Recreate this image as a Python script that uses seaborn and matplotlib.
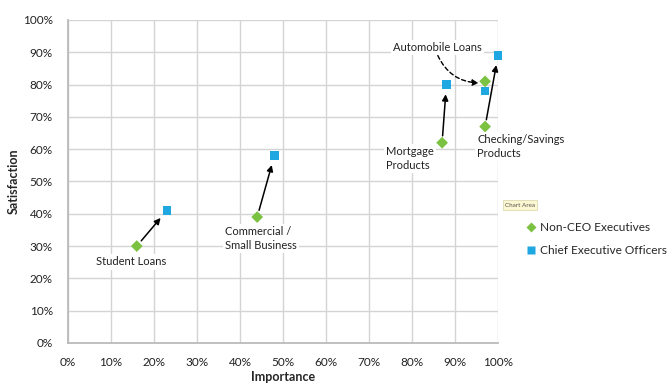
import matplotlib
matplotlib.use("Agg")
import matplotlib.pyplot as plt
import seaborn as sns
import pandas as pd
from matplotlib.ticker import FuncFormatter

# values (percent)
categories = ['Student Loans', 'Commercial / Small Business', 'Mortgage Products',
              'Automobile Loans', 'Checking/Savings Products']
non_ceo_importance = [16, 44, 87, 97, 97]
non_ceo_satisfaction = [30, 39, 62, 81, 67]
ceo_importance = [23, 48, 88, 97, 100]
ceo_satisfaction = [41, 58, 80, 78, 89]
series_names = ['Non-CEO Executives', 'Chief Executive Officers']

df = pd.concat([
    pd.DataFrame({'Category': categories, 'Importance': non_ceo_importance,
                  'Satisfaction': non_ceo_satisfaction, 'Group': series_names[0]}),
    pd.DataFrame({'Category': categories, 'Importance': ceo_importance,
                  'Satisfaction': ceo_satisfaction, 'Group': series_names[1]}),
])

sns.set_theme(style='whitegrid')
plt.rcParams['font.family'] = ['Lato', 'DejaVu Sans']

fig = plt.figure(figsize=(6.69, 3.85), dpi=100)
ax = fig.add_axes([0.1016, 0.1091, 0.6428, 0.8390])

palette = {series_names[0]: '#7cc242', series_names[1]: '#1ea7e1'}
markers = {series_names[0]: 'D', series_names[1]: 's'}
sns.scatterplot(data=df, x='Importance', y='Satisfaction', hue='Group', style='Group',
                palette=palette, markers=markers, s=36, edgecolor='none', ax=ax,
                zorder=5)
for coll in ax.collections:
    coll.set_clip_on(False)

ax.set_xlim(0, 100)
ax.set_ylim(0, 100)
ax.set_xticks(range(0, 101, 10))
ax.set_yticks(range(0, 101, 10))
pct = FuncFormatter(lambda v, p: f'{v:.0f}%')
ax.xaxis.set_major_formatter(pct)
ax.yaxis.set_major_formatter(pct)
ax.tick_params(labelsize=8.5, colors='#222222', pad=4)
ax.tick_params(axis='y', pad=5)
ax.grid(color='#d4d4d4', lw=1)
for side in ['top', 'right']:
    ax.spines[side].set_visible(False)
for side in ['left', 'bottom']:
    ax.spines[side].set_color('#b8b8b8')
ax.set_xlabel('Importance', fontsize=9, fontweight='bold', labelpad=2)
ax.set_ylabel('Satisfaction', fontsize=9, fontweight='bold', labelpad=2)

# arrows from non-CEO to CEO points
for i, cat in enumerate(categories):
    if cat == 'Automobile Loans':
        continue
    ax.annotate('', xy=(ceo_importance[i], ceo_satisfaction[i]),
                xytext=(non_ceo_importance[i], non_ceo_satisfaction[i]),
                arrowprops=dict(arrowstyle='-|>', color='black', lw=1.1,
                                shrinkA=5, shrinkB=7, mutation_scale=9),
                zorder=4)

box = dict(facecolor='white', edgecolor='none', pad=1.5)
labels = [
    ('Student Loans', 14.8, 25.1, 'center'),
    ('Commercial /\nSmall Business', 36.5, 32.3, 'left'),
    ('Mortgage\nProducts', 74.0, 57.2, 'left'),
    ('Checking/Savings\nProducts', 95.2, 60.9, 'left'),
]
for txt, x, y, ha in labels:
    ax.text(x, y, txt, ha=ha, va='center', fontsize=8, color='#222222',
            bbox=box, linespacing=1.3, zorder=6, clip_on=False)

ax.text(86, 91.5, 'Automobile Loans', ha='center', va='center', fontsize=8,
        color='#222222', bbox=box, zorder=6)
ax.annotate('', xy=(95.5, 80.5), xytext=(86, 89),
            arrowprops=dict(arrowstyle='-|>', color='black', lw=1, ls=(0, (3, 2)),
                            connectionstyle='arc3,rad=0.3', mutation_scale=9,
                            shrinkA=0, shrinkB=0),
            zorder=4)

handles, lbls = ax.get_legend_handles_labels()
ax.legend_.remove()
fig.legend(handles, lbls, loc='upper left', bbox_to_anchor=(0.787, 0.424),
           frameon=False, fontsize=8.6, handlelength=0.8, handletextpad=0.3,
           labelspacing=1.05, borderpad=0, borderaxespad=0, markerscale=0.9)

fig.text(0.80, 0.4675, 'Chart Area', fontsize=4.5, color='#555555',
         ha='right', va='center',
         bbox=dict(facecolor='#fbf7d0', edgecolor='#d8d4a8', pad=1.5, lw=0.5))

fig.savefig('out.png', dpi=100)
